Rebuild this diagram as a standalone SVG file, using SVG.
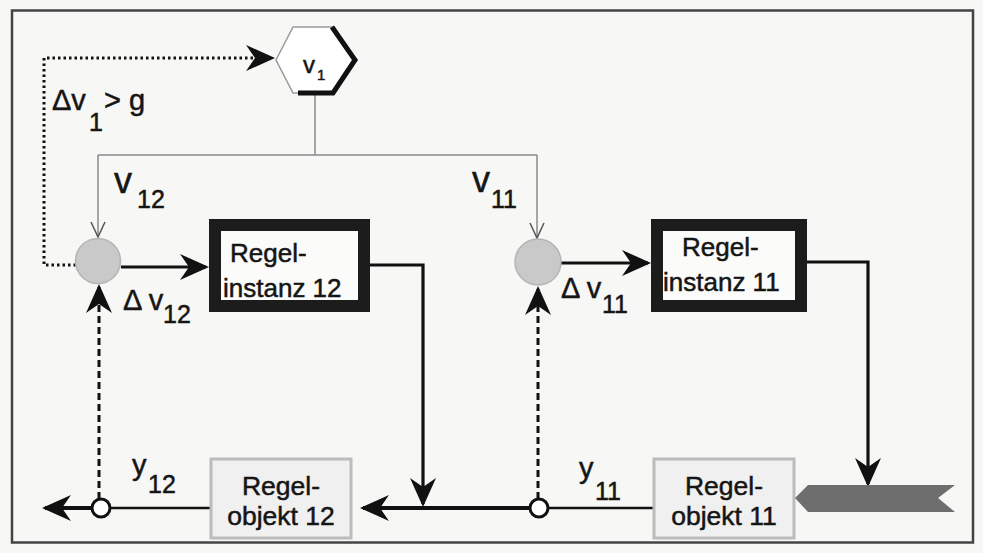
<svg xmlns="http://www.w3.org/2000/svg" width="983" height="553" viewBox="0 0 983 553">
<defs>
<style>
text{font-family:"Liberation Sans",Arial,sans-serif;fill:#151515;stroke:#151515;stroke-width:0.5}
.lbl{font-size:29px}
.sub{font-size:25px}
.box{font-size:26px}
.obj{font-size:26.5px}
.thin{fill:none;stroke:#8a8a8a;stroke-width:1.5}
.thick{fill:none;stroke:#111;stroke-width:3.2}
.dash{fill:none;stroke:#111;stroke-width:3;stroke-dasharray:7 4}
.dot{fill:none;stroke:#111;stroke-width:3;stroke-dasharray:2.5 3}
.inst{fill:#fbfbfa;stroke:#1c1c1c;stroke-width:12}
.robj{fill:#f1f0f0;stroke:#bcbcbc;stroke-width:3}
.sum{fill:#c9c9c9;stroke:#b5b5b5;stroke-width:1.5}
.tap{fill:#fff;stroke:#111;stroke-width:3}
</style>
<marker id="ah" viewBox="-30 -15 31 30" markerWidth="31" markerHeight="30" refX="-3" refY="0" orient="auto" markerUnits="userSpaceOnUse">
<path d="M0,0 L-29,-13 L-20,0 L-29,13 Z" fill="#111"/>
</marker>
<marker id="oa" viewBox="-17 -9 18 18" markerWidth="18" markerHeight="18" refX="0" refY="0" orient="auto" markerUnits="userSpaceOnUse">
<path d="M-15,-7 L0,0 L-15,7" fill="none" stroke="#555" stroke-width="1.5"/>
</marker>
</defs>
<rect x="0" y="0" width="983" height="553" fill="#f7f7f5"/>
<rect id="frame" x="12" y="10.5" width="961" height="532" fill="none" stroke="#444" stroke-width="2.5"/>

<g id="connectors">
<path class="thin" d="M315 95 V155"/>
<path class="thin" d="M98 155 H537"/>
<path class="thin" d="M98 155 V237" marker-end="url(#oa)"/>
<path class="thin" d="M537 155 V238" marker-end="url(#oa)"/>
<path class="dot" d="M76 265 H44 V58 H272" marker-end="url(#ah)"/>
<path class="thick" d="M121 267 H206" marker-end="url(#ah)"/>
<path class="thick" d="M370 265 H423 V504" marker-end="url(#ah)"/>
<path class="thick" d="M561 263 H648" marker-end="url(#ah)"/>
<path class="thick" d="M807 262 H868 V484" marker-end="url(#ah)"/>
<path class="thick" d="M653 508 H539" style="stroke-width:2.6"/>
<path class="thick" d="M539 508 H363" style="stroke-width:4" marker-end="url(#ah)"/>
<path class="thick" d="M210 508 H100" style="stroke-width:2.6"/>
<path class="thick" d="M100 508 H45" style="stroke-width:4" marker-end="url(#ah)"/>
<path class="dash" d="M99 499 V287" marker-end="url(#ah)"/>
<path class="dash" d="M538 499 V289" marker-end="url(#ah)"/>
</g>

<g id="v1">
<polygon points="276,60 293,27 333,27 355,60 333,93 293,93" fill="#fff" stroke="#9a9a9a" stroke-width="1.5"/>
<polyline points="332,27 355,60 333,93 298,93" fill="none" stroke="#111" stroke-width="5"/>
<text x="303" y="73" style="font-size:24px">v<tspan x="317" y="80" style="font-size:15px">1</tspan></text>
</g>

<g id="sum12"><circle class="sum" cx="98" cy="261" r="22.5"/></g>
<g id="sum11"><circle class="sum" cx="538" cy="262" r="23"/></g>

<g id="regelinstanz12">
<rect class="inst" x="215" y="225" width="149" height="81"/>
<text class="box" x="230" y="262">Regel-<tspan x="223" y="297">instanz 12</tspan></text>
</g>

<g id="regelinstanz11">
<rect class="inst" x="657" y="225" width="144" height="81"/>
<text class="box" x="682" y="256">Regel-<tspan x="663" y="291">instanz 11</tspan></text>
</g>

<g id="regelobjekt12">
<rect class="robj" x="211" y="459" width="140" height="79"/>
<text class="obj" x="281" y="495" text-anchor="middle">Regel-<tspan x="281" y="525">objekt 12</tspan></text>
</g>

<g id="regelobjekt11">
<rect class="robj" x="654" y="459" width="140" height="79"/>
<text class="obj" x="724" y="495" text-anchor="middle">Regel-<tspan x="724" y="525">objekt 11</tspan></text>
</g>

<g id="stoergroesse">
<polygon points="795,498 808,485 955,485 938,498 955,512 808,512" fill="#6e6e6e"/>
</g>

<g id="tap12"><circle class="tap" cx="101" cy="508" r="9"/></g>
<g id="tap11"><circle class="tap" cx="539" cy="508" r="9"/></g>

<g id="labels">
<text class="lbl" x="52" y="110">Δv<tspan class="sub" x="89" y="131">1</tspan><tspan x="104" y="110">&gt; g</tspan></text>
<text x="114" y="193" style="font-size:36px">v<tspan class="sub" x="137" y="208">12</tspan></text>
<text x="472" y="192" style="font-size:36px">v<tspan class="sub" x="491" y="208">11</tspan></text>
<text class="lbl" x="123" y="310">Δ v<tspan class="sub" x="163" y="323">12</tspan></text>
<text class="lbl" x="561" y="298">Δ v<tspan class="sub" x="602" y="313">11</tspan></text>
<text class="lbl" x="132" y="475">y<tspan class="sub" x="148" y="493">12</tspan></text>
<text class="lbl" x="579" y="478">y<tspan class="sub" x="595" y="500">11</tspan></text>
</g>
</svg>
